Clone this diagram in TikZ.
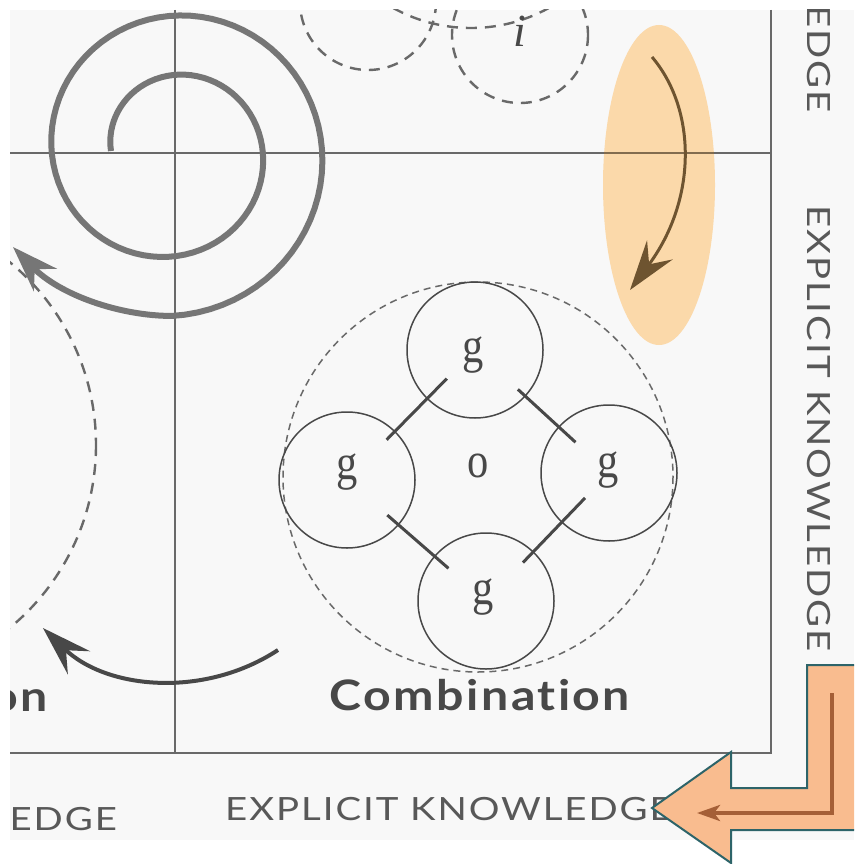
\documentclass[tikz,border=0pt]{standalone}
\usepackage{fontspec}
\newfontfamily\labfont[LetterSpace=5,Ligatures={NoCommon,NoRare}]{Lato}
\newfontfamily\quadfont[LetterSpace=5,Ligatures={NoCommon,NoRare}]{Lato}
\newfontfamily\letfont{Liberation Serif}
\usetikzlibrary{arrows.meta,calc}
\definecolor{bgc}{RGB}{248,248,248}
\definecolor{ink}{RGB}{105,105,105}
\definecolor{spir}{RGB}{118,118,118}
\definecolor{dark}{RGB}{72,72,72}
\definecolor{ellc}{RGB}{251,217,170}
\definecolor{ellarrow}{RGB}{110,84,48}
\definecolor{ellline}{RGB}{130,108,78}
\definecolor{salmon}{RGB}{249,188,143}
\definecolor{tealedge}{RGB}{45,100,105}
\definecolor{brownar}{RGB}{165,95,55}
\definecolor{txt}{RGB}{88,88,88}
\begin{document}
\begin{tikzpicture}[x=1pt,y=-1pt,
  gridline/.style={draw=ink,line width=2pt},
  bigdash/.style={draw=ink,line width=2.4pt,dash pattern=on 11pt off 8pt},
  thindash/.style={draw=ink,line width=1.5pt,dash pattern=on 7pt off 5pt},
  smallcirc/.style={circle,draw=dark,line width=1.5pt,minimum size=136pt,inner sep=0pt},
  letter/.style={inner sep=0pt,anchor=base,text=dark,font=\letfont\fontsize{50}{50}\selectfont,xscale=0.85},
  link/.style={draw=dark,line width=3pt},
  axislabel/.style={inner sep=0pt,text=txt,font=\labfont\fontsize{32}{32}\selectfont,xscale=1.2},
  quadlabel/.style={inner sep=0pt,anchor=base,text=dark,font=\quadfont\bfseries\fontsize{42}{42}\selectfont,xscale=1.15},
  bigtip/.style={-{Stealth[length=46pt,width=32pt,inset=15pt]}}
]
\useasboundingbox (0,0) rectangle (854,864);
\fill[white] (0,0) rectangle (854,864);
\fill[bgc] (10,10) rectangle (854,840);
\begin{scope}
\clip (10,10) rectangle (854,840);
% grid lines
\coordinate (vt) at (175,10); \coordinate (vb) at (175,753);
\coordinate (hl) at (10,153); \coordinate (hr) at (771,153);
\coordinate (rt) at (771,10); \coordinate (rb) at (771,753);
\coordinate (bl) at (10,753);
\draw[gridline] (vt) -- (vb);
\draw[gridline] (hl) -- (hr);
\draw[gridline] (rt) -- (rb) -- (bl);
% top dashed circles (externalization, cropped)
\draw[bigdash] (368,2) circle[radius=68];
\draw[bigdash] (520,35) circle[radius=68];
\draw[bigdash] (471,-133) circle[radius=161];
\node[inner sep=0pt,anchor=base,text=dark,font=\letfont\fontsize{46}{46}\selectfont\itshape] (iletter) at (520,47) {i};
% left dashed circle (internalization, cropped)
\draw[bigdash] (-141,445) circle[radius=237];
% spiral
\coordinate (sptip) at (13,247);
\draw[draw=spir,line width=6pt,bigtip]
  plot[domain=180:810,samples=140,variable=\t]
  ({172+(61+0.165*(\t-180))*cos(\t)},{151+(61+0.165*(\t-180))*sin(\t)})
  .. controls (120,316) and (60,295) .. (sptip);
% combination
\draw[thindash] (478,477) circle[radius=195];
\node[smallcirc] (gt) at (475,350) {};
\node[smallcirc] (gl) at (347,480) {};
\node[smallcirc] (gr) at (609,473) {};
\node[smallcirc] (gb) at (486,601) {};
\node[letter] at (473,362) {g};
\node[letter] at (347,479) {g};
\node[letter] at (608,477) {g};
\node[letter] at (483,604) {g};
\node[letter] at (478,477) {o};
\draw[link] ($(gt)!0.22!(gl)$) -- ($(gt)!0.69!(gl)$);
\draw[link] ($(gt)!0.32!(gr)$) -- ($(gt)!0.75!(gr)$);
\draw[link] ($(gl)!0.29!(gb)$) -- ($(gl)!0.73!(gb)$);
\draw[link] ($(gr)!0.195!(gb)$) -- ($(gr)!0.70!(gb)$);
\node[quadlabel] (comb) at (480,710) {Combination};
\node[quadlabel,anchor=base east] (intl) at (48,711) {Internalization};
% bottom arrow
\coordinate (ba) at (278,650);
\draw[draw=dark,line width=4pt,-{Stealth[length=50pt,width=32pt,inset=18pt]}] (ba) arc[start angle=56.7,end angle=134,radius=189];
% axis labels
\node[axislabel,anchor=base west] (bexp) at (225,820) {EXPLICIT KNOWLEDGE};
\node[axislabel,anchor=base east] (btac) at (117,830) {TACIT KNOWLEDGE};
\node[rotate=-90,axislabel,anchor=base west] (rexp) at (807,205) {EXPLICIT KNOWLEDGE};
\node[rotate=-90,axislabel,anchor=base east] (rtac) at (807,113) {TACIT KNOWLEDGE};
% orange ellipse highlight
\fill[ellc] (659,185) ellipse[x radius=56,y radius=160];
\begin{scope}
\clip (659,185) ellipse[x radius=56,y radius=160];
\draw[draw=ellline,line width=2pt] (hl) -- (hr);
\end{scope}
\coordinate (ea) at (652,57);
\coordinate (eb) at (630,290);
\draw[draw=ellarrow,line width=3pt,-{Stealth[length=50pt,width=32pt,inset=18pt]}] (ea) .. controls (697,110) and (697,200) .. (eb);
\end{scope}
% orange L arrow
\begin{scope}
\clip (0,0) rectangle (854,864);
\filldraw[fill=salmon,draw=tealedge,line width=2pt,line join=miter]
 (880,665) -- (807,665) -- (807,788) -- (731,788) -- (731,752) -- (652,808)
 -- (731,863) -- (731,830) -- (880,830) -- cycle;
\coordinate (la) at (832,693);
\coordinate (lb) at (832,813);
\coordinate (lc) at (697,813);
\draw[draw=brownar,line width=4pt,-{Stealth[length=23pt,width=16pt,inset=6pt]}] (la) -- (lb) -- (lc);
\end{scope}
\end{tikzpicture}
\end{document}
